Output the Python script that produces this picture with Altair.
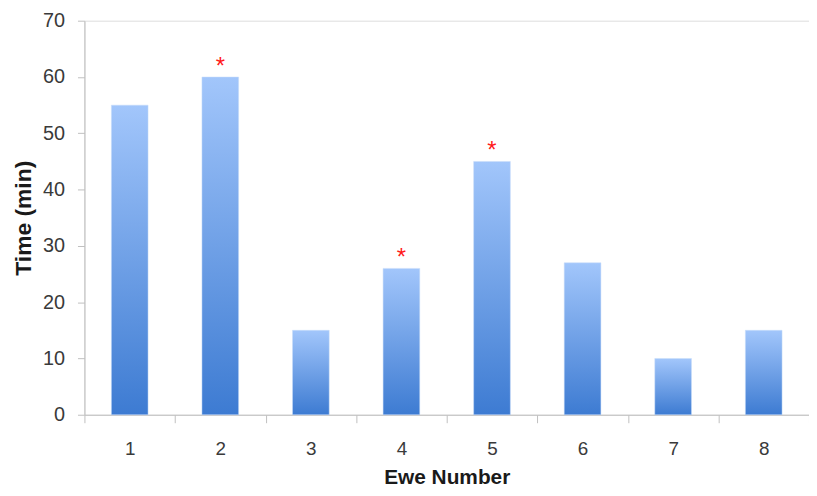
import altair as alt
import pandas as pd

ewes = ["1", "2", "3", "4", "5", "6", "7", "8"]
times = [55, 60, 15, 26, 45, 27, 10, 15]
marks = ["", "*", "", "*", "*", "", "", ""]

df = pd.DataFrame({"ewe": ewes, "time": times, "sig": marks})

x = alt.X("ewe:N", sort=ewes, title="Ewe Number",
          scale=alt.Scale(paddingInner=0, paddingOuter=0),
          axis=alt.Axis(labelAngle=0, tickBand="extent", tickSize=8,
                        labelPadding=17, titlePadding=8,
                        labelFontSize=19, titleFontSize=21, titleFontWeight="bold",
                        labelColor="#3a3a3a", titleColor="#1a1a1a",
                        domainColor="#c0c0c0", tickColor="#c0c0c0"))
y = alt.Y("time:Q", title="Time (min)",
          scale=alt.Scale(domain=[0, 70], nice=False),
          axis=alt.Axis(values=list(range(0, 71, 10)), grid=False, tickSize=7,
                        labelPadding=13, titlePadding=7,
                        labelFontSize=20, titleFontSize=23, titleFontWeight="bold",
                        labelColor="#3a3a3a", titleColor="#1a1a1a",
                        domainColor="#c0c0c0", tickColor="#c0c0c0"))

grad = alt.Gradient(gradient="linear", x1=0, x2=0, y1=0, y2=1,
                    stops=[alt.GradientStop(color="#a2c6fb", offset=0),
                           alt.GradientStop(color="#3d7bd2", offset=1)])

bars = alt.Chart(df).mark_bar(color=grad, width=alt.RelativeBandSize(0.405),
                              stroke="#c8dcf8", strokeWidth=0.5).encode(x=x, y=y)

stars = alt.Chart(df).mark_text(color="#ff1a1a", fontSize=24, baseline="bottom",
                                dy=2).encode(x=x, y=y, text="sig:N")

chart = alt.layer(bars, stars).properties(
    width=730, height=397,
    autosize=alt.AutoSizeParams(type="none"),
    padding={"left": 77, "top": 11, "right": 0, "bottom": 72},
).configure_view(stroke=None).configure(font="Liberation Sans")

chart.save("out.html", embed_options={"renderer": "svg", "actions": False})
